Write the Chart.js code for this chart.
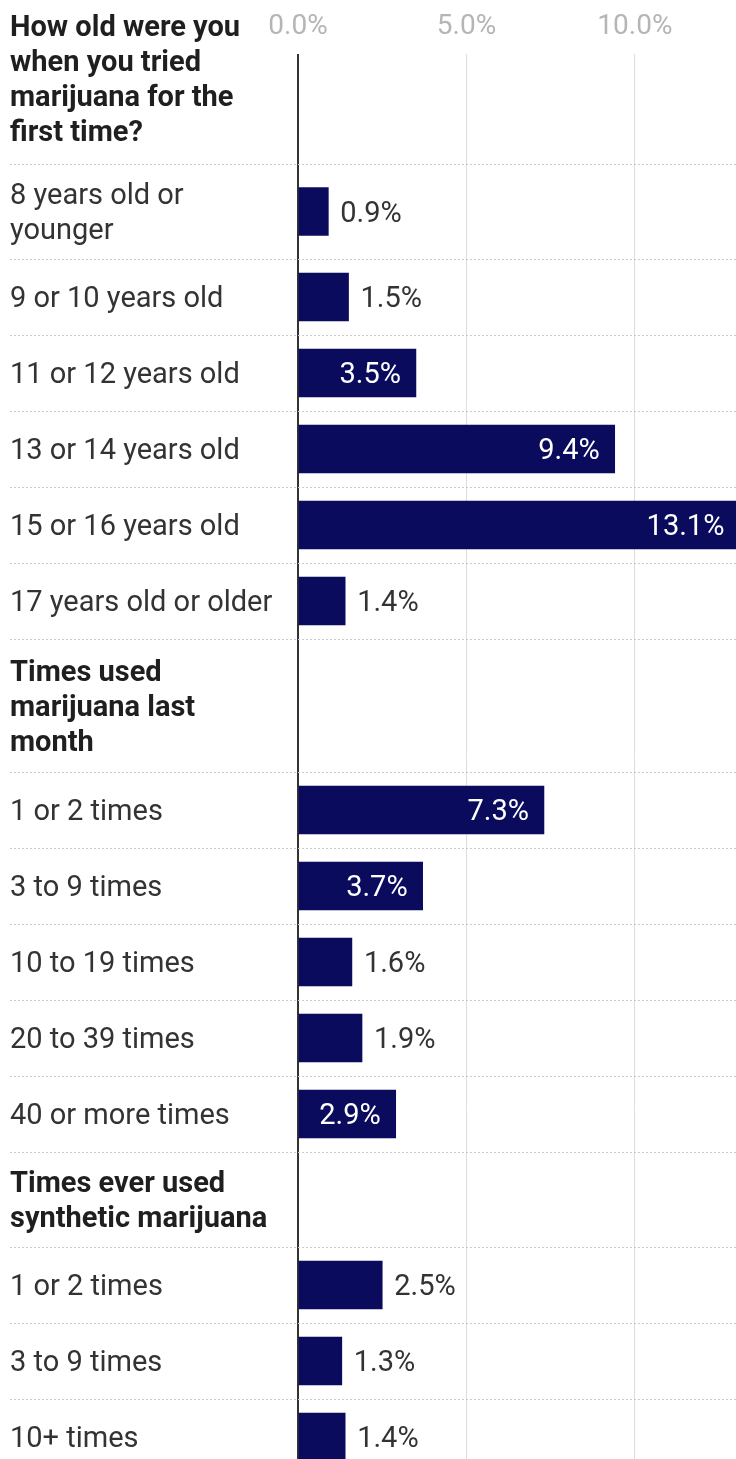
<!DOCTYPE html>
<html>
<head>
<meta charset="utf-8">
<script src="https://cdn.jsdelivr.net/npm/chart.js@4.4.1/dist/chart.umd.min.js"></script>
<style>
  html, body { margin: 0; padding: 0; background: #fff; }
  #wrap { width: 736px; height: 1459px; overflow: hidden; }
</style>
</head>
<body>
<div id="wrap"><canvas id="c" width="736" height="1459"></canvas></div>
<script>
// Section headings and their answer rows
const sectionTitles = [
  'How old were you when you tried marijuana for the first time?',
  'Times used marijuana last month',
  'Times ever used synthetic marijuana'
];
const ageLabels = ['8 years old or younger', '9 or 10 years old', '11 or 12 years old',
                   '13 or 14 years old', '15 or 16 years old', '17 years old or older'];
const ageValues = [0.9, 1.5, 3.5, 9.4, 13.1, 1.4];

const monthLabels = ['1 or 2 times', '3 to 9 times', '10 to 19 times', '20 to 39 times', '40 or more times'];
const monthValues = [7.3, 3.7, 1.6, 1.9, 2.9];

const syntheticLabels = ['1 or 2 times', '3 to 9 times', '10+ times'];
const syntheticValues = [2.5, 1.3, 1.4];

const xTickValues = [0, 5, 10];

// ---- layout constants ----
const W = 736, H = 1459;
const FONT = 'Roboto, "Noto Sans", sans-serif';
const LABEL_SIZE = 29, LINE_GAP = 35, WRAP_WIDTH = 268, LABEL_X = 10, TEXT_DY = 3;
const PLOT_LEFT = 298;
const PAD_TOP = 0, TICK_SIZE = 28, TICK_LH = 1.0, TICK_PAD = 13;
const FIRST_RULE = 164;
const BAR_COLOR = '#0b0b5e';

const measureCtx = document.createElement('canvas').getContext('2d');
function labelFont(bold) { return (bold ? '700 ' : '400 ') + LABEL_SIZE + 'px ' + FONT; }
function wrapText(text, bold) {
  measureCtx.font = labelFont(bold);
  const words = text.split(' ');
  const lines = [];
  let cur = '';
  for (const w of words) {
    const t = cur ? cur + ' ' + w : w;
    if (cur && measureCtx.measureText(t).width > WRAP_WIDTH) { lines.push(cur); cur = w; }
    else cur = t;
  }
  if (cur) lines.push(cur);
  return lines;
}
const rowHeight = n => Math.max(76, 19 + 38 * n);

function build() {
  const sections = [
    [sectionTitles[0], ageLabels, ageValues],
    [sectionTitles[1], monthLabels, monthValues],
    [sectionTitles[2], syntheticLabels, syntheticValues]
  ];
  const rows = [];
  for (const [title, labels, values] of sections) {
    rows.push({ text: title, bold: true, value: null });
    labels.forEach((l, i) => rows.push({ text: l, bold: false, value: values[i] }));
  }
  rows.forEach(r => { r.lines = wrapText(r.text, r.bold); r.h = rowHeight(r.lines.length); });
  let y = FIRST_RULE - rows[0].h;
  rows.forEach(r => { r.top = y; r.center = y + r.h / 2; y += r.h; });

  const barData = rows.filter(r => r.value !== null).map(r => ({ x: r.value, y: r.center }));

  // the row axis runs in page pixels: pin its range to the plot area once it is known
  const pixelRows = {
    id: 'pixelRows',
    afterLayout(chart) {
      const ys = chart.scales.y;
      ys.min = ys.top;
      ys.max = ys.bottom;
      ys.configure();
    }
  };

  // dotted row separators
  const separators = {
    id: 'separators',
    beforeDatasetsDraw(chart) {
      const ctx = chart.ctx, ys = chart.scales.y;
      ctx.save();
      ctx.strokeStyle = '#c9c9c9';
      ctx.lineWidth = 1;
      ctx.setLineDash([2, 2]);
      rows.forEach((r, i) => {
        if (i === 0) return;
        const py = Math.round(ys.getPixelForValue(r.top)) + 0.5;
        ctx.beginPath();
        ctx.moveTo(LABEL_X, py);
        ctx.lineTo(W, py);
        ctx.stroke();
      });
      ctx.restore();
    }
  };

  // category and heading text on the left
  const rowLabels = {
    id: 'rowLabels',
    afterDraw(chart) {
      const ctx = chart.ctx, ys = chart.scales.y;
      ctx.save();
      ctx.textAlign = 'left';
      ctx.textBaseline = 'middle';
      rows.forEach(r => {
        ctx.font = labelFont(r.bold);
        ctx.fillStyle = r.bold ? '#1f1f1f' : '#333333';
        const cy = ys.getPixelForValue(r.center) + TEXT_DY;
        const n = r.lines.length;
        r.lines.forEach((line, i) => {
          ctx.fillText(line, LABEL_X, cy + (i - (n - 1) / 2) * LINE_GAP);
        });
      });
      ctx.restore();
    }
  };

  // percentage labels at the bar ends
  const valueLabels = {
    id: 'valueLabels',
    afterDatasetsDraw(chart) {
      const ctx = chart.ctx;
      const meta = chart.getDatasetMeta(0);
      const data = chart.data.datasets[0].data;
      ctx.save();
      ctx.font = '400 ' + LABEL_SIZE + 'px ' + FONT;
      ctx.textBaseline = 'middle';
      meta.data.forEach((bar, i) => {
        const txt = data[i].x.toFixed(1) + '%';
        const tw = ctx.measureText(txt).width;
        const barW = bar.x - bar.base;
        if (barW >= tw + 30) {
          ctx.textAlign = 'right';
          ctx.fillStyle = '#ffffff';
          ctx.fillText(txt, bar.x - 15, bar.y + TEXT_DY);
        } else {
          ctx.textAlign = 'left';
          ctx.fillStyle = '#333333';
          ctx.fillText(txt, bar.x + 12, bar.y + TEXT_DY);
        }
      });
      ctx.restore();
    }
  };

  new Chart(document.getElementById('c'), {
    type: 'bar',
    data: {
      datasets: [{
        data: barData,
        backgroundColor: BAR_COLOR,
        borderWidth: 0,
        barThickness: 48
      }]
    },
    options: {
      indexAxis: 'y',
      responsive: false,
      animation: false,
      events: [],
      layout: { padding: { top: PAD_TOP, left: PLOT_LEFT, right: 0, bottom: 0 } },
      plugins: { legend: { display: false }, tooltip: { enabled: false } },
      scales: {
        x: {
          type: 'linear',
          position: 'top',
          min: 0,
          max: 13,
          afterBuildTicks: s => { s.ticks = xTickValues.map(v => ({ value: v })); },
          ticks: {
            includeBounds: false,
            padding: TICK_PAD,
            color: '#b5b5b5',
            font: { family: FONT, size: TICK_SIZE, lineHeight: TICK_LH },
            callback: v => Number(v).toFixed(1) + '%'
          },
          grid: {
            drawTicks: false,
            color: c => (c.tick && c.tick.value === 0) ? '#333333' : '#dedede',
            lineWidth: c => (c.tick && c.tick.value === 0) ? 2 : 1
          },
          border: { display: false }
        },
        y: {
          type: 'linear',
          reverse: true,
          offset: false,
          grid: { offset: false },
          min: 0,
          max: H,
          display: false
        }
      }
    },
    plugins: [pixelRows, separators, valueLabels, rowLabels]
  });
}

Promise.all([
  document.fonts.load('400 29px Roboto'),
  document.fonts.load('700 29px Roboto')
]).then(build, build);
</script>
</body>
</html>
